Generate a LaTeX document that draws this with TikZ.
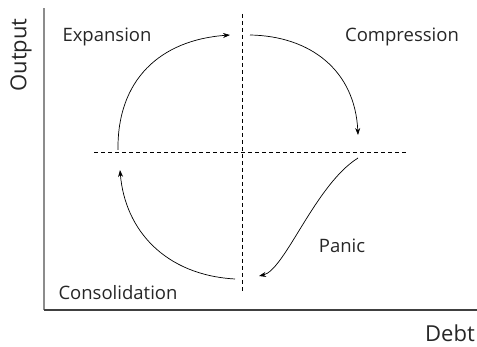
\documentclass[tikz,border=0pt]{standalone}
\usepackage{fontspec}
\setmainfont{Open Sans}
\usetikzlibrary{arrows.meta}
\begin{document}
\begin{tikzpicture}[x=1pt,y=-1pt,
  lbl/.style={font=\fontsize{18.5}{20}\selectfont, text=black!85, inner sep=0pt},
  axlbl/.style={font=\fontsize{22}{24}\selectfont, text=black!85, inner sep=0pt},
  flow/.style={line width=0.7pt, -{Stealth[length=7pt,width=5pt]}},
  guide/.style={line width=0.7pt, dash pattern=on 4pt off 3pt}]
\useasboundingbox (0,0) rectangle (477,347);
% axes
\coordinate (o) at (44,310);
\coordinate (ytop) at (44,8);
\coordinate (xend) at (477,310);
\draw[line width=1.3pt, black!45] (o) -- (ytop);
\draw[line width=1.3pt, black!75] (o) -- (xend);
\node[axlbl, rotate=90] (out) at (21,55) {Output};
\node[axlbl] (debt) at (450,333) {Debt};
% dashed guides
\coordinate (vt) at (242,14);
\coordinate (vb) at (242,293);
\coordinate (hl) at (94,152);
\coordinate (hr) at (406,152);
\draw[guide] (vt) -- (vb);
\draw[guide] (hl) -- (hr);
% labels
\node[lbl] (exp) at (107,37) {Expansion};
\node[lbl] (comp) at (402,37) {Compression};
\node[lbl] (cons) at (118,293) {Consolidation};
\node[lbl] (panic) at (342,246) {Panic};
% arrows
\coordinate (a1) at (118,150);
\coordinate (a2) at (230,35);
\coordinate (b1) at (250,35);
\coordinate (b2) at (358,135);
\coordinate (c1) at (358,158);
\coordinate (c2) at (259,276);
\coordinate (d1) at (235,279);
\coordinate (d2) at (120,170);
\draw[flow] (a1) .. controls (117,80) and (160,40) .. (a2);
\draw[flow] (b1) .. controls (310,36) and (355,70) .. (b2);
\draw[flow] (c1) .. controls (315,185) and (285,270) .. (c2);
\draw[flow] (d1) .. controls (165,275) and (125,230) .. (d2);
\end{tikzpicture}
\end{document}
